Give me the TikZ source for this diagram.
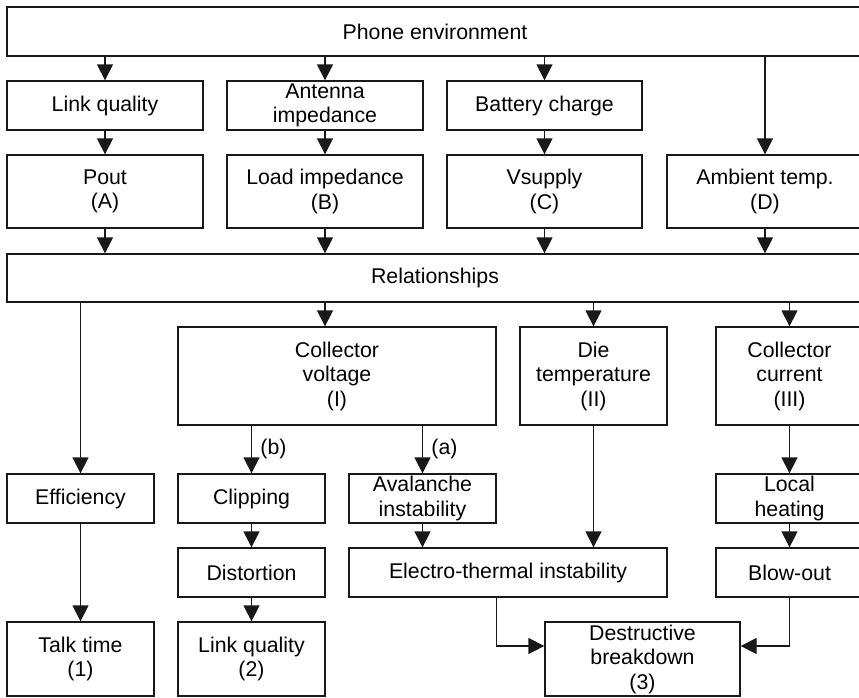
\documentclass[tikz,border=0pt]{standalone}
\usepackage{fontspec}
\setmainfont{Liberation Sans}
\usetikzlibrary{arrows.meta,calc}
\begin{document}
\begin{tikzpicture}[x=1pt,y=-1pt,
  every node/.style={font=\fontsize{21.3}{24.5}\selectfont},
  box/.style={draw=black!90, line width=1.3pt, rectangle, align=center, inner sep=0pt, minimum height=49pt},
  arr/.style={draw=black!90, line width=1.3pt, -{Triangle[width=16pt,length=16pt]}},
  ln/.style={draw=black!90, line width=1.3pt}]
\useasboundingbox (0,0) rectangle (859,697);
% row 1
\node[box, minimum width=856pt] (env) at (435,31.5) {Phone environment};
% row 2
\node[box, minimum width=196pt] (link) at (105,105.5) {Link quality};
\node[box, minimum width=196pt] (ant) at (325,105.5) {Antenna\\impedance};
\node[box, minimum width=195pt] (bat) at (544.5,105.5) {Battery charge};
% row 3
\node[box, minimum width=196pt, minimum height=73pt] (pout) at (105,191.5) {Pout\\(A)};
\node[box, minimum width=196pt, minimum height=73pt] (load) at (325,191.5) {Load impedance\\(B)};
\node[box, minimum width=195pt, minimum height=73pt] (vsup) at (544.5,191.5) {Vsupply\\(C)};
\node[box, minimum width=196pt, minimum height=73pt] (amb) at (765,191.5) {Ambient temp.\\(D)};
% relationships
\node[box, minimum width=856pt, minimum height=48pt] (rel) at (435,278) {Relationships};
% row 5
\node[box, minimum width=318pt, minimum height=98pt] (cv) at (337,376) {Collector\\voltage\\(I)};
\node[box, minimum width=147pt, minimum height=98pt] (die) at (593.5,376) {Die\\temperature\\(II)};
\node[box, minimum width=147pt, minimum height=98pt] (cc) at (789.5,376) {Collector\\current\\(III)};
% row 6
\node[box, minimum width=147pt] (eff) at (80.5,498.5) {Efficiency};
\node[box, minimum width=147pt] (clip) at (251.5,498.5) {Clipping};
\node[box, minimum width=147pt] (aval) at (422.5,498.5) {Avalanche\\instability};
\node[box, minimum width=147pt] (loc) at (789.5,498.5) {Local\\heating};
% row 7
\node[box, minimum width=147pt] (dist) at (251.5,572.5) {Distortion};
\node[box, minimum width=318pt] (eti) at (508,572.5) {Electro-thermal instability};
\node[box, minimum width=147pt] (blow) at (789.5,572.5) {Blow-out};
% row 8
\node[box, minimum width=147pt, minimum height=74pt] (talk) at (80.5,659) {Talk time\\(1)};
\node[box, minimum width=147pt, minimum height=74pt] (lq) at (251.5,659) {Link quality\\(2)};
\node[box, minimum width=195pt, minimum height=74pt] (db) at (642.5,659) {Destructive\\breakdown\\(3)};
% connectors
\draw[arr] (link.north |- env.south) -- (link.north);
\draw[arr] (ant.north |- env.south) -- (ant.north);
\draw[arr] (bat.north |- env.south) -- (bat.north);
\draw[arr] (amb.north |- env.south) -- (amb.north);
\draw[arr] (link) -- (pout);
\draw[arr] (ant) -- (load);
\draw[arr] (bat) -- (vsup);
\draw[arr] (pout.south) -- (pout.south |- rel.north);
\draw[arr] (load.south) -- (load.south |- rel.north);
\draw[arr] (vsup.south) -- (vsup.south |- rel.north);
\draw[arr] (amb.south) -- (amb.south |- rel.north);
\draw[arr] (eff.north |- rel.south) -- (eff.north);
\draw[arr] (rel.south -| load.south) -- (cv.north -| load.south);
\draw[arr] (die.north |- rel.south) -- (die.north);
\draw[arr] (cc.north |- rel.south) -- (cc.north);
\draw[arr] (clip.north |- cv.south) -- node[right, xshift=5pt, pos=0.48] (lb) {(b)} (clip.north);
\draw[arr] (aval.north |- cv.south) -- node[right, xshift=5pt, pos=0.48] (la) {(a)} (aval.north);
\draw[arr] (eff) -- (talk);
\draw[arr] (clip) -- (dist);
\draw[arr] (dist) -- (lq);
\draw[arr] (aval.south) -- (aval.south |- eti.north);
\draw[arr] (die.south) -- (die.south |- eti.north);
\draw[arr] (cc) -- (loc);
\draw[arr] (loc) -- (blow);
\coordinate (dbin) at ($(db.west)+(0,-13)$);
\coordinate (dbin2) at ($(db.east)+(0,-13)$);
\draw[arr] (eti.south -| cv.east) |- (dbin);
\draw[arr] (blow.south) |- (dbin2);
\end{tikzpicture}
\end{document}
